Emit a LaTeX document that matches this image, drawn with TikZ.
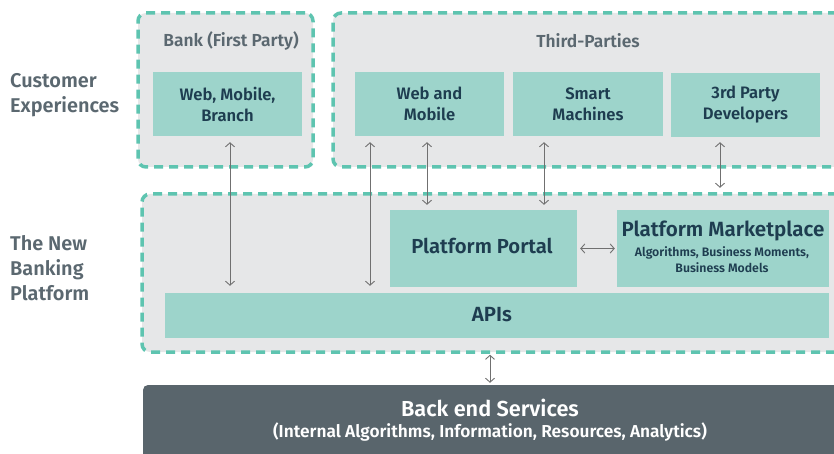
\documentclass[tikz,border=0pt]{standalone}
\usepackage{fontspec}
\setmainfont{Fira Sans}[UprightFont={* SemiBold}, BoldFont={* Bold}]
\usetikzlibrary{arrows.meta}

\definecolor{dashteal}{HTML}{5EC4B0}
\definecolor{boxteal}{HTML}{9DD4CB}
\definecolor{panel}{HTML}{E6E7E8}
\definecolor{titlegray}{HTML}{5B6870}
\definecolor{boxtext}{HTML}{1E3D50}
\definecolor{backend}{HTML}{59656C}
\definecolor{linkgray}{HTML}{707070}

\tikzset{
  panelbox/.style={draw=dashteal, fill=panel, line width=3.5pt,
    dash pattern=on 9pt off 6pt, rounded corners=8pt, inner sep=0pt},
  tealbox/.style={fill=boxteal, inner sep=0pt, align=center,
    text=boxtext, font=\fontsize{16.6}{21}\selectfont},
  paneltitle/.style={text=titlegray, font=\fontsize{17.4}{20}\selectfont},
  sidelabel/.style={text=titlegray, align=left, anchor=west, inner sep=0pt,
    font=\fontsize{19.9}{25}\selectfont},
  bigtext/.style={text=boxtext, font=\fontsize{20.3}{22}\selectfont},
  link/.style={draw=linkgray, line width=0.9pt,
    {Straight Barb[length=4pt,width=9pt]}-{Straight Barb[length=4pt,width=9pt]}}
}

\begin{document}
\begin{tikzpicture}[x=1pt,y=-1pt]
\useasboundingbox (0,0) rectangle (834,454);
\clip (0,0) rectangle (834,454);

% side labels
\node[sidelabel] (lblcx) at (10,95) {Customer\\Experiences};
\node[sidelabel] (lblplat) at (10,268) {The New\\Banking\\Platform};

% dashed panels
\node[panelbox, minimum width=175pt, minimum height=154pt] (bankc) at (225.5,90) {};
\node[panelbox, minimum width=527pt, minimum height=154pt] (thirdc) at (596.5,90) {};
\node[panelbox, minimum width=718pt, minimum height=158pt] (platc) at (501,273) {};

% panel titles
\node[paneltitle] (banktitle) at (231,41) {Bank (First Party)};
\node[paneltitle] (thirdtitle) at (588,41) {Third-Parties};

% customer experience boxes
\node[tealbox, minimum width=149pt, minimum height=64pt] (bankbox) at (227.5,104) {Web, Mobile,\\Branch};
\node[tealbox, minimum width=149pt, minimum height=64pt] (webmob) at (429.5,104) {Web and\\Mobile};
\node[tealbox, minimum width=150pt, minimum height=64pt] (smart) at (588,104) {Smart\\Machines};
\node[tealbox, minimum width=149pt, minimum height=64pt] (dev) at (745.5,105) {3rd Party\\Developers};

% platform boxes
\node[tealbox, minimum width=187pt, minimum height=77pt] (portal) at (483.5,248.5) {};
\node[bigtext] (portaltxt) at (482,246) {Platform Portal};
\node[tealbox, minimum width=212pt, minimum height=77pt] (market) at (723,248.5) {};
\node[bigtext, font=\fontsize{20.6}{22}\selectfont] (markettxt) at (723,231) {Platform Marketplace};
\node[text=boxtext, align=center, font=\fontsize{12.3}{16}\selectfont] (marketsub) at (722,260) {Algorithms, Business Moments,\\Business Models};
\node[tealbox, minimum width=664pt, minimum height=45pt] (apis) at (497,315.5) {};
\node[bigtext, font=\fontsize{20.5}{22}\selectfont] (apistxt) at (492,315) {APIs};

% back end
\node[fill=backend, rounded corners=5pt, minimum width=757pt, minimum height=90pt, inner sep=0pt] (backend) at (521.5,430) {};
\node[text=white, font=\fontsize{21.7}{24}\selectfont] (backtitle) at (490,408) {Back end Services};
\node[text=white, font=\fontsize{17.3}{20}\selectfont] (backsub) at (490,432) {(Internal Algorithms, Information, Resources, Analytics)};

% connectors
\draw[link, shorten <=6pt, shorten >=7pt] ([xshift=2.5pt]bankbox.south) -- ([xshift=2.5pt]bankbox.south |- apis.north);
\draw[link, shorten <=6pt, shorten >=7pt] ([xshift=-59.5pt]webmob.south) -- ([xshift=-59.5pt]webmob.south |- apis.north);
\draw[link, shorten <=6pt, shorten >=5pt] ([xshift=-2.5pt]webmob.south) -- ([xshift=-2.5pt]webmob.south |- portal.north);
\draw[link, shorten <=6pt, shorten >=5pt] ([xshift=-44pt]smart.south) -- ([xshift=-44pt]smart.south |- portal.north);
\draw[link, shorten <=5pt, shorten >=22pt] ([xshift=-25.5pt]dev.south) -- ([xshift=-25.5pt]dev.south |- market.north);
\draw[link, shorten <=3pt, shorten >=2pt] (portal.east) -- (market.west);
\draw[link, shorten <=1pt, shorten >=2pt] (platc.south -| backtitle.center) -- (backend.north -| backtitle.center);
\end{tikzpicture}
\end{document}
